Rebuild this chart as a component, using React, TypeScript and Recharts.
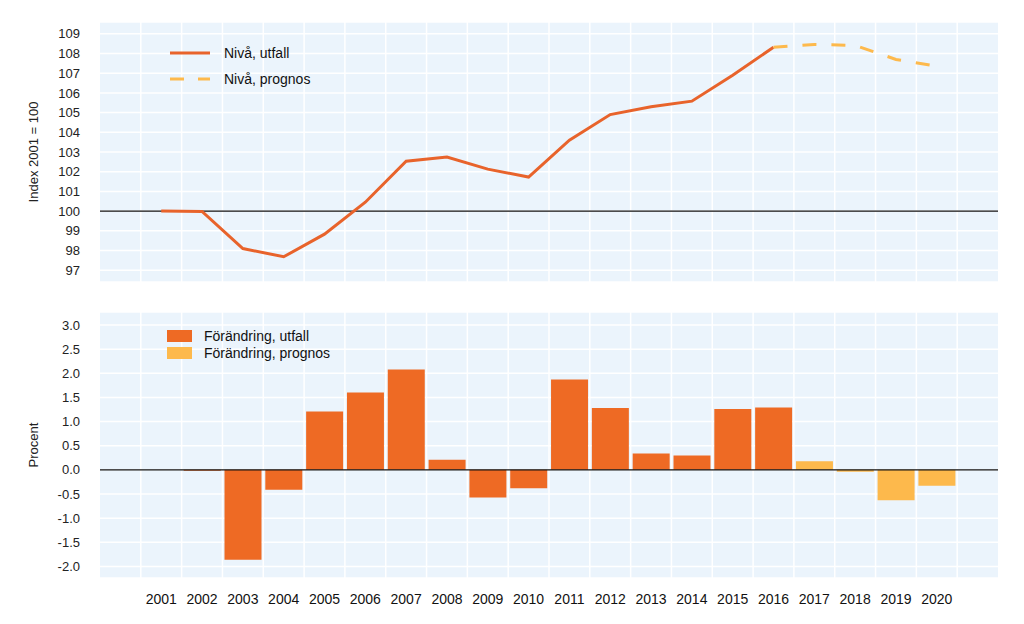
import {
  Bar,
  BarChart,
  CartesianGrid,
  Legend,
  Line,
  LineChart,
  ReferenceLine,
  XAxis,
  YAxis,
} from "recharts"

// categories, padded with one empty slot on each side
const years = [
  "2001", "2002", "2003", "2004", "2005", "2006", "2007", "2008", "2009", "2010",
  "2011", "2012", "2013", "2014", "2015", "2016", "2017", "2018", "2019", "2020",
]
const slots = ["2000", ...years, "2021"]

// index level, 2001 = 100
const levelOutcome = [
  100.0, 99.98, 98.1, 97.68, 98.83, 100.45, 102.53, 102.74, 102.13, 101.73,
  103.6, 104.9, 105.3, 105.58, 106.9, 108.32, null, null, null, null,
]
const levelForecast = [
  null, null, null, null, null, null, null, null, null, null,
  null, null, null, null, null, 108.32, 108.46, 108.41, 107.7, 107.36,
]

// yearly change, percent
const changeOutcome = [
  0, -0.02, -1.86, -0.41, 1.21, 1.6, 2.08, 0.21, -0.57, -0.38,
  1.87, 1.28, 0.34, 0.3, 1.26, 1.29, null, null, null, null,
]
const changeForecast = [
  null, null, null, null, null, null, null, null, null, null,
  null, null, null, null, null, null, 0.18, -0.04, -0.63, -0.33,
]

const levelTicks = [97, 98, 99, 100, 101, 102, 103, 104, 105, 106, 107, 108, 109]
const changeTicks = [-2, -1.5, -1, -0.5, 0, 0.5, 1, 1.5, 2, 2.5, 3]

const levelData = slots.map((year, i) => ({
  year,
  utfall: i === 0 || i > years.length ? null : levelOutcome[i - 1],
  prognos: i === 0 || i > years.length ? null : levelForecast[i - 1],
}))

const changeData = slots.map((year, i) => ({
  year,
  utfall: i === 0 || i > years.length ? null : changeOutcome[i - 1],
  prognos: i === 0 || i > years.length ? null : changeForecast[i - 1],
}))

const ORANGE = "#EE6A24"
const LINE_ORANGE = "#E8632B"
const YELLOW = "#FDB94C"
const BG = "#EBF4FC"
const FONT = '"Liberation Sans", Arial, sans-serif'

// vertical grid on the band edges, not the band centres
const bandEdges = ({ offset }: any) => {
  const n = slots.length
  const out: number[] = []
  for (let i = 1; i < n; i++) out.push(offset.left + (offset.width * i) / n)
  return out
}

const tickStyle = { fontSize: 13, fill: "#222", fontFamily: FONT }

function LevelLegend() {
  const rows = [
    { label: "Nivå, utfall", color: LINE_ORANGE, dash: undefined },
    { label: "Nivå, prognos", color: YELLOW, dash: "14 14" },
  ]
  return (
    <div style={{ fontFamily: FONT, fontSize: 14, color: "#111" }}>
      {rows.map((r) => (
        <div key={r.label} style={{ display: "flex", alignItems: "center", height: 26 }}>
          <svg width={40} height={6} style={{ marginRight: 14 }}>
            <line x1={0} y1={3} x2={40} y2={3} stroke={r.color} strokeWidth={3} strokeDasharray={r.dash} />
          </svg>
          <span>{r.label}</span>
        </div>
      ))}
    </div>
  )
}

function ChangeLegend() {
  const rows = [
    { label: "Förändring, utfall", color: ORANGE },
    { label: "Förändring, prognos", color: YELLOW },
  ]
  return (
    <div style={{ fontFamily: FONT, fontSize: 14, color: "#111" }}>
      {rows.map((r) => (
        <div key={r.label} style={{ display: "flex", alignItems: "center", height: 17.5 }}>
          <div style={{ width: 25, height: 12, background: r.color, marginRight: 12 }} />
          <span>{r.label}</span>
        </div>
      ))}
    </div>
  )
}

export default function App() {
  return (
    <div
      style={{
        position: "absolute",
        left: 0,
        top: 0,
        width: 1024,
        height: 624,
        background: "#fff",
        fontFamily: FONT,
      }}
    >
      <LineChart
        width={1024}
        height={300}
        data={levelData}
        margin={{ top: 22, right: 26, bottom: 18, left: 28 }}
      >
        <CartesianGrid
          fill={BG}
          stroke="#fff"
          strokeWidth={1.5}
          verticalCoordinatesGenerator={bandEdges}
        />
        <XAxis dataKey="year" scale="band" hide />
        <YAxis
          width={72}
          domain={[96.4, 109.6]}
          ticks={levelTicks}
          interval={0}
          axisLine={false}
          tickLine={false}
          tickSize={0}
          tickMargin={20}
          tick={tickStyle}
          label={{
            value: "Index 2001 = 100",
            angle: -90,
            position: "insideLeft",
            offset: 5,
            style: { textAnchor: "middle", fontSize: 13, fill: "#222", fontFamily: FONT },
          }}
        />
        <ReferenceLine y={100} stroke="#111" strokeWidth={1.2} />
        <Legend
          layout="vertical"
          align="center"
          verticalAlign="middle"
          wrapperStyle={{ left: 170, top: 40, width: 200 }}
          content={() => <LevelLegend />}
        />
        <Line
          dataKey="utfall"
          stroke={LINE_ORANGE}
          strokeWidth={3}
          dot={false}
          connectNulls={false}
          isAnimationActive={false}
        />
        <Line
          dataKey="prognos"
          stroke={YELLOW}
          strokeWidth={3}
          strokeDasharray="14 15"
          dot={false}
          connectNulls={false}
          isAnimationActive={false}
        />
      </LineChart>

      <BarChart
        width={1024}
        height={324}
        data={changeData}
        margin={{ top: 12, right: 26, bottom: 6, left: 28 }}
        barCategoryGap="5%"
      >
        <CartesianGrid
          fill={BG}
          stroke="#fff"
          strokeWidth={1.5}
          verticalCoordinatesGenerator={bandEdges}
        />
        <XAxis
          dataKey="year"
          height={40}
          interval={0}
          axisLine={false}
          tickLine={false}
          tickSize={0}
          tickMargin={16}
          tick={{ fontSize: 14, fill: "#111", fontFamily: FONT }}
          tickFormatter={(v) => (years.includes(v) ? v : "")}
        />
        <YAxis
          width={72}
          domain={[-2.24, 3.27]}
          ticks={changeTicks}
          interval={0}
          axisLine={false}
          tickLine={false}
          tickSize={0}
          tickMargin={20}
          tick={tickStyle}
          tickFormatter={(v) => Number(v).toFixed(1)}
          label={{
            value: "Procent",
            angle: -90,
            position: "insideLeft",
            offset: 5,
            style: { textAnchor: "middle", fontSize: 13, fill: "#222", fontFamily: FONT },
          }}
        />
        <Legend
          layout="vertical"
          align="center"
          verticalAlign="middle"
          wrapperStyle={{ left: 167, top: 27, width: 220 }}
          content={() => <ChangeLegend />}
        />
        <Bar dataKey="utfall" stackId="c" fill={ORANGE} isAnimationActive={false} />
        <Bar dataKey="prognos" stackId="c" fill={YELLOW} isAnimationActive={false} />
        <ReferenceLine y={0} stroke="#111" strokeWidth={1.2} />
      </BarChart>
    </div>
  )
}
